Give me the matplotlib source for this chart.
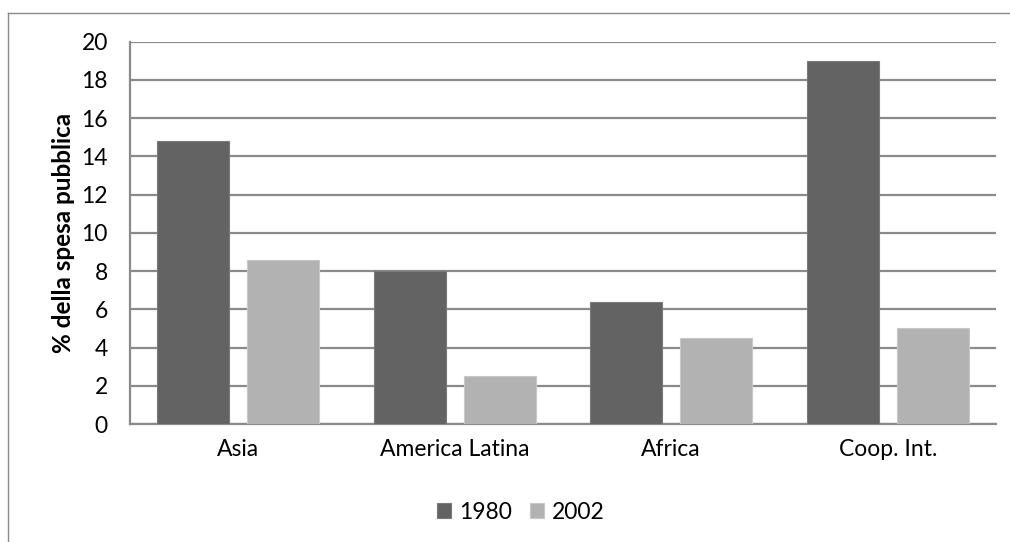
import numpy as np
import matplotlib
matplotlib.use("Agg")
import matplotlib.pyplot as plt
from matplotlib.lines import Line2D

plt.rcParams['font.family'] = ['Lato', 'DejaVu Sans']

# ── Data ─────────────────────────────────────────────────────
categories = ["Asia", "America Latina", "Africa", "Coop. Int."]
years = ["1980", "2002"]
vals_1980 = [14.8, 8.0, 6.4, 19.0]
vals_2002 = [8.6, 2.5, 4.5, 5.0]
y_ticks = [0, 2, 4, 6, 8, 10, 12, 14, 16, 18, 20]

dark, light = "#636363", "#b2b2b2"
grid_c = "#8a8a8a"

fig = plt.figure(figsize=(10.1, 5.42), dpi=100)
ax = fig.add_axes([0.1287, 0.2177, 0.9861 - 0.1287, 0.9234 - 0.2177])

x = np.arange(len(categories))
w = 0.333
off = w / 2 + 0.0415
ax.bar(x - off, vals_1980, w, color=dark, edgecolor="#7a7a7a", lw=0.8,
       label=years[0], zorder=3)
ax.bar(x + off, vals_2002, w, color=light, edgecolor="#c8c8c8", lw=0.8,
       label=years[1], zorder=3)

ax.set_xlim(-0.5, len(categories) - 0.5)
ax.set_ylim(0, 20)
ax.set_yticks(y_ticks)
ax.set_xticks(x)
ax.set_xticklabels(categories)
ax.tick_params(axis="both", length=0, labelsize=16.5, colors="black")
ax.tick_params(axis="y", pad=16)
ax.tick_params(axis="x", pad=11)
ax.yaxis.grid(True, color=grid_c, lw=1.6, zorder=1)
ax.set_axisbelow(True)
for s in ["top", "right"]:
    ax.spines[s].set_visible(False)
for s in ["left", "bottom"]:
    ax.spines[s].set_color(grid_c)
    ax.spines[s].set_linewidth(1.6)

ax.set_ylabel("% della spesa pubblica", fontsize=17.5, fontweight="bold",
              labelpad=4.5)

leg = fig.legend(loc="center", bbox_to_anchor=(0.516, 0.055), ncol=2,
                 frameon=False, fontsize=16.5, handlelength=0.6,
                 handleheight=0.6, handletextpad=0.35, columnspacing=0.8)

# chart frame (left and top edges visible)
fig.add_artist(Line2D([8 / 1010, 8 / 1010], [0, 1 - 13 / 542],
                      transform=fig.transFigure, color=grid_c, lw=1.0))
fig.add_artist(Line2D([8 / 1010, 1], [1 - 13 / 542, 1 - 13 / 542],
                      transform=fig.transFigure, color=grid_c, lw=1.0))

fig.savefig("out.png", dpi=100)
